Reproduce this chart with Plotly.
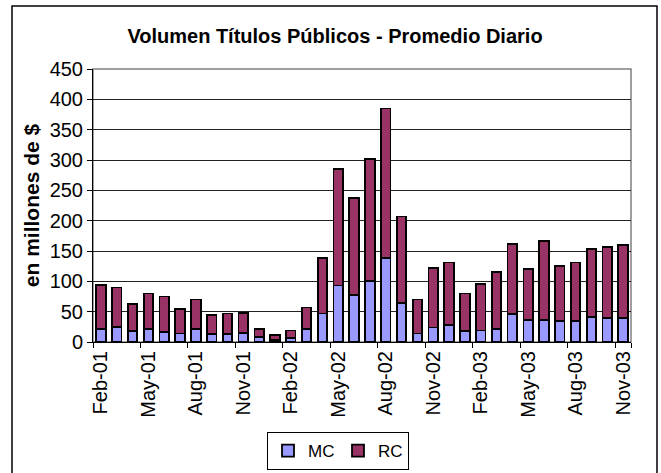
import plotly.graph_objects as go

months = ["Feb-01", "Mar-01", "Apr-01", "May-01", "Jun-01", "Jul-01", "Aug-01", "Sep-01",
          "Oct-01", "Nov-01", "Dec-01", "Jan-02", "Feb-02", "Mar-02", "Apr-02", "May-02",
          "Jun-02", "Jul-02", "Aug-02", "Sep-02", "Oct-02", "Nov-02", "Dec-02", "Jan-03",
          "Feb-03", "Mar-03", "Apr-03", "May-03", "Jun-03", "Jul-03", "Aug-03", "Sep-03",
          "Oct-03", "Nov-03"]

mc = [21, 25, 18, 21, 17, 14, 21, 13, 13, 15, 8, 3, 7, 22, 47, 93, 77, 101, 138, 64,
      14, 24, 28, 18, 19, 22, 46, 36, 36, 34, 35, 41, 39, 40]

rc = [73, 65, 44, 59, 58, 40, 49, 32, 34, 33, 14, 8, 12, 35, 92, 192, 161, 200, 247, 143,
      56, 98, 103, 62, 76, 93, 115, 84, 131, 91, 96, 112, 118, 120]

tick_labels = months[::3]

FONT = "Liberation Sans, Arial, sans-serif"

fig = go.Figure()
fig.add_trace(go.Bar(x=months, y=mc, name="MC",
                     marker=dict(color="#9999FF", line=dict(color="black", width=1.8))))
fig.add_trace(go.Bar(x=months, y=rc, name="RC",
                     marker=dict(color="#993366", line=dict(color="black", width=1.8))))

fig.update_layout(
    width=661, height=473,
    barmode="stack", bargap=0.4,
    margin=dict(l=93, r=30, t=69, b=131, autoexpand=False),
    paper_bgcolor="white", plot_bgcolor="white",
    font=dict(family=FONT, color="black"),
    title=dict(text="<b>Volumen Títulos Públicos - Promedio Diario</b>",
               font=dict(size=20, family=FONT, color="black"),
               x=335 / 661, xref="container", xanchor="center",
               y=1 - 36 / 473, yref="container", yanchor="middle"),
    xaxis=dict(type="category", tickvals=tick_labels, ticktext=tick_labels, tickangle=-90,
               tickson="boundaries", ticks="outside", ticklen=5, tickcolor="black",
               showline=True, linecolor="black", linewidth=1, showgrid=False,
               automargin=False, tickfont=dict(size=20, family=FONT)),
    yaxis=dict(range=[0, 450], dtick=50, showgrid=True, gridcolor="#222", gridwidth=1,
               ticks="outside", ticklen=5, tickcolor="black", showline=True,
               linecolor="black", linewidth=1, zeroline=False, automargin=False,
               tickfont=dict(size=20, family=FONT),
               title=dict(text="<b>en millones de $</b>", font=dict(size=21, family=FONT), standoff=4)),
    legend=dict(orientation="h", xref="container", yref="container",
                x=338 / 661, xanchor="center", y=1 - 432 / 473, yanchor="top",
                bordercolor="black", borderwidth=1,
                font=dict(size=17, family=FONT), itemwidth=30, traceorder="normal",
                entrywidth=25),
    showlegend=True,
)

fig.add_shape(type="rect", xref="paper", yref="paper", x0=0, x1=1, y0=0, y1=1,
              line=dict(color="#808080", width=1.5), layer="below")
fig.add_shape(type="rect", xref="paper", yref="paper",
              x0=(12 - 93) / 538, x1=(657 - 93) / 538, y0=-0.6, y1=(342 - 6) / 273,
              line=dict(color="black", width=1.5), layer="below")

fig.write_html("out.html", config={"displayModeBar": False},
               post_script="document.body.style.margin='0';document.body.style.padding='0';")
